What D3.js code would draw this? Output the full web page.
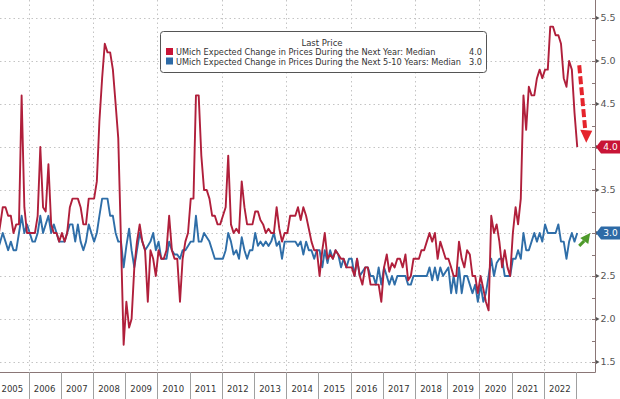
<!DOCTYPE html>
<html>
<head>
<meta charset="utf-8">
<script src="https://cdn.jsdelivr.net/npm/d3@7"></script>
<style>
  body { margin: 0; background: #fff; }
  svg { display: block; font-family: "DejaVu Sans", Verdana, sans-serif; }
</style>
</head>
<body>
<div id="chart"></div>
<script>
// monthly medians, Jan 2005 .. Jan 2023
var firstMonth = new Date(2005, 0, 15);

var nextYear = [
  2.9, 3.1, 3.3, 3.3, 3.2, 3.2, 3.0, 3.1, 3.1, 4.6, 3.3, 3.0,   // 2005
  3.0, 3.0, 3.0, 3.2, 4.0, 3.3, 3.25, 3.8, 3.1, 3.0, 3.0, 2.9,  // 2006
  3.0, 2.9, 3.0, 3.3, 3.4, 3.4, 3.4, 3.3, 3.1, 3.1, 3.4, 3.4,   // 2007
  3.4, 3.6, 4.3, 4.8, 5.2, 5.1, 5.1, 4.9, 4.5, 4.1, 2.9, 1.7,   // 2008
  2.2, 1.9, 2.0, 2.6, 2.9, 3.1, 2.9, 2.8, 2.2, 2.8, 2.7, 2.5,   // 2009
  2.8, 2.7, 2.7, 2.8, 3.2, 2.8, 2.7, 2.7, 2.2, 2.7, 2.9, 3.0,   // 2010
  3.4, 3.4, 4.6, 4.6, 3.9, 3.5, 3.5, 3.4, 3.2, 3.2, 3.1, 3.1,   // 2011
  3.2, 3.3, 3.9, 3.1, 3.0, 3.05, 3.0, 3.6, 3.3, 3.1, 3.1, 3.1,  // 2012
  3.25, 3.25, 3.15, 3.1, 3.0, 3.05, 3.0, 3.0, 3.3, 3.05, 2.9, 3.0, // 2013
  3.0, 3.2, 3.2, 3.2, 3.3, 3.15, 3.3, 3.2, 3.05, 2.9, 2.8, 2.8, // 2014
  2.5, 2.8, 3.0, 2.7, 2.75, 2.7, 2.8, 2.75, 2.7, 2.7, 2.6, 2.6, // 2015
  2.6, 2.5, 2.7, 2.5, 2.4, 2.6, 2.6, 2.4, 2.4, 2.4, 2.4, 2.2,   // 2016
  2.6, 2.75, 2.55, 2.65, 2.6, 2.7, 2.7, 2.6, 2.75, 2.45, 2.5, 2.7, // 2017
  2.7, 2.7, 2.8, 2.8, 2.9, 3.0, 2.9, 3.0, 2.7, 2.9, 2.8, 2.7,   // 2018
  2.7, 2.6, 2.5, 2.5, 2.9, 2.7, 2.6, 2.8, 2.75, 2.5, 2.5, 2.3,  // 2019
  2.5, 2.35, 2.2, 2.1, 3.2, 3.0, 3.1, 2.9, 2.6, 2.8, 2.6, 2.5,  // 2020
  3.0, 3.3, 3.1, 3.4, 4.6, 4.2, 4.7, 4.6, 4.6, 4.8, 4.9, 4.8,   // 2021
  4.9, 4.9, 5.4, 5.4, 5.3, 5.3, 5.2, 4.8, 4.7, 5.0, 4.9, 4.4,   // 2022
  4.0                                                           // 2023
];

var next5to10 = [
  2.8, 2.9, 3.0, 2.9, 2.8, 2.9, 2.8, 2.8, 3.0, 3.2, 3.0, 3.1,   // 2005
  3.0, 2.9, 2.9, 3.0, 3.2, 3.0, 3.1, 3.2, 3.0, 3.1, 3.0, 2.9,   // 2006
  2.9, 2.9, 3.0, 3.1, 3.1, 2.9, 3.1, 2.9, 2.8, 2.9, 3.1, 3.0,   // 2007
  2.9, 3.0, 3.2, 3.4, 3.4, 3.4, 3.2, 3.2, 3.0, 2.9, 2.9, 2.6,   // 2008
  2.85, 3.05, 2.8, 2.6, 2.8, 3.0, 2.9, 2.8, 2.85, 2.9, 3.0, 2.8, // 2009
  2.9, 2.7, 2.7, 2.7, 2.9, 2.8, 2.75, 2.75, 2.7, 2.8, 2.8, 2.85, // 2010
  2.9, 2.9, 3.2, 2.9, 2.9, 3.0, 2.95, 2.9, 2.8, 2.7, 2.7, 2.7,  // 2011
  2.7, 2.8, 3.0, 2.9, 2.75, 2.8, 2.7, 2.95, 2.8, 2.7, 2.8, 2.8, // 2012
  3.0, 2.85, 2.9, 2.85, 2.9, 2.85, 2.9, 3.0, 2.85, 2.9, 2.7, 2.9, // 2013
  2.9, 2.9, 2.9, 2.9, 2.85, 2.9, 2.75, 2.9, 2.8, 2.8, 2.7, 2.8, // 2014
  2.8, 2.6, 2.8, 2.65, 2.8, 2.7, 2.8, 2.75, 2.6, 2.7, 2.6, 2.7, // 2015
  2.7, 2.5, 2.7, 2.5, 2.55, 2.6, 2.6, 2.5, 2.5, 2.4, 2.6, 2.4,  // 2016
  2.6, 2.5, 2.4, 2.5, 2.4, 2.5, 2.5, 2.5, 2.5, 2.4, 2.4, 2.5,   // 2017
  2.5, 2.5, 2.5, 2.5, 2.5, 2.6, 2.45, 2.6, 2.45, 2.6, 2.5, 2.55, // 2018
  2.6, 2.3, 2.5, 2.3, 2.6, 2.3, 2.5, 2.5, 2.4, 2.3, 2.4, 2.2,   // 2019
  2.4, 2.2, 2.3, 2.5, 2.7, 2.5, 2.65, 2.7, 2.7, 2.5, 2.5, 2.5,  // 2020
  2.7, 2.7, 2.8, 2.7, 3.0, 2.8, 2.8, 2.9, 3.0, 2.9, 3.0, 2.9,   // 2021
  3.1, 3.0, 3.0, 3.0, 3.0, 3.1, 2.9, 2.9, 2.7, 2.9, 3.0, 2.9,   // 2022
  3.0                                                           // 2023
];

var yearLabels = d3.range(2005, 2023);
var gridYears = d3.range(2006, 2023, 2);
var yTicks = [1.5, 2.0, 2.5, 3.0, 3.5, 4.0, 4.5, 5.0, 5.5];

var SERIES = [
  { name: 'UMich Expected Change in Prices During the Next Year: Median', values: nextYear, color: '#b01f3b', tag: '#c81436' },
  { name: 'UMich Expected Change in Prices During the Next 5-10 Years: Median', values: next5to10, color: '#2f6ea8', tag: '#2d6aa6' }
];

var W = 620, H = 399;
var right = 595, bottom = 372;

function monthDate(i) {
  return new Date(firstMonth.getFullYear(), firstMonth.getMonth() + i, 15);
}

var sx = d3.scaleTime()
  .domain([new Date(2006, 0, 1), new Date(2023, 0, 1)])
  .range([28.5, 576]);
var sy = d3.scaleLinear()
  .domain([1.5, 5.5])
  .range([362, 18]);

var svg = d3.select('#chart').append('svg')
  .attr('width', W)
  .attr('height', H);

svg.append('clipPath').attr('id', 'plot')
  .append('rect').attr('x', 0).attr('y', 0).attr('width', right).attr('height', bottom);

// grid
var grid = svg.append('g')
  .attr('stroke', '#c4c4c4')
  .attr('stroke-width', 1)
  .attr('stroke-dasharray', '1.5,3');
grid.selectAll('line.h').data(yTicks).enter().append('line')
  .attr('x1', 0).attr('x2', right)
  .attr('y1', function(d) { return Math.round(sy(d)) + 0.5; })
  .attr('y2', function(d) { return Math.round(sy(d)) + 0.5; });
grid.selectAll('line.v').data(gridYears).enter().append('line')
  .attr('x1', function(d) { return Math.round(sx(new Date(d, 0, 1))) + 0.5; })
  .attr('x2', function(d) { return Math.round(sx(new Date(d, 0, 1))) + 0.5; })
  .attr('y1', 0).attr('y2', bottom);

// series
var line = d3.line()
  .x(function(d, i) { return sx(monthDate(i)); })
  .y(function(d) { return sy(d); });

var lines = svg.append('g').attr('clip-path', 'url(#plot)');
SERIES.slice().reverse().forEach(function(s) {
  lines.append('path')
    .datum(s.values)
    .attr('fill', 'none')
    .attr('stroke', s.color)
    .attr('stroke-width', 1.9)
    .attr('stroke-linejoin', 'round')
    .attr('d', line);
});

// right axis
var axisColor = '#8a7676';
svg.append('line')
  .attr('x1', right + 0.5).attr('x2', right + 0.5)
  .attr('y1', 0).attr('y2', bottom + 0.5)
  .attr('stroke', axisColor);
svg.append('line')
  .attr('x1', 0).attr('x2', right + 0.5)
  .attr('y1', bottom + 0.5).attr('y2', bottom + 0.5)
  .attr('stroke', axisColor);

var minor = d3.range(1.5, 5.6, 0.25);
svg.append('g').selectAll('line').data(minor).enter().append('line')
  .attr('x1', right - 3).attr('x2', right)
  .attr('y1', function(d) { return Math.round(sy(d)) + 0.5; })
  .attr('y2', function(d) { return Math.round(sy(d)) + 0.5; })
  .attr('stroke', axisColor);

// the last-price tags sit on top of these two labels
var lastValues = SERIES.map(function(s) { return s.values[s.values.length - 1]; });
var yt = svg.append('g').selectAll('g').data(yTicks).enter().append('g')
  .attr('transform', function(d) { return 'translate(' + (right + 1) + ',' + sy(d) + ')'; });
yt.append('path')
  .attr('d', 'M0,-2L3.5,0L0,2Z')
  .attr('fill', '#555');
yt.filter(function(d) { return lastValues.indexOf(d) < 0; })
  .append('text')
  .attr('x', 4.5)
  .attr('dy', '0.36em')
  .attr('font-size', '9.5px')
  .attr('fill', '#555')
  .text(function(d) { return d.toFixed(1); });

// last price tags
SERIES.forEach(function(s) {
  var v = s.values[s.values.length - 1];
  var g = svg.append('g').attr('transform', 'translate(' + (right + 1) + ',' + sy(v) + ')');
  g.append('path')
    .attr('d', 'M0,0L5,-6.5H24V6.5H5Z')
    .attr('fill', s.tag);
  g.append('text')
    .attr('x', 14.5)
    .attr('dy', '0.36em')
    .attr('text-anchor', 'middle')
    .attr('font-size', '9px')
    .attr('fill', '#fff')
    .text(v.toFixed(1));
});

// year boxes
var xa = svg.append('g');
xa.selectAll('line').data(d3.range(2006, 2024)).enter().append('line')
  .attr('x1', function(d) { return Math.round(sx(new Date(d, 0, 1))) + 0.5; })
  .attr('x2', function(d) { return Math.round(sx(new Date(d, 0, 1))) + 0.5; })
  .attr('y1', bottom).attr('y2', H)
  .attr('stroke', '#a0a0a0');
xa.selectAll('text').data(yearLabels).enter().append('text')
  .attr('x', function(d) { return sx(new Date(d, 6, 2)); })
  .attr('y', 392)
  .attr('text-anchor', 'middle')
  .attr('font-size', '8.5px')
  .attr('fill', '#333')
  .text(function(d) { return d; });

// annotations
var lastDate = monthDate(nextYear.length - 1);
var ax0 = sx(lastDate) + 2, ax1 = sx(lastDate) + 9;
svg.append('line')
  .attr('x1', ax0).attr('y1', sy(4.95))
  .attr('x2', ax1 - 1).attr('y2', sy(4.2))
  .attr('stroke', '#e5242c')
  .attr('stroke-width', 4)
  .attr('stroke-dasharray', '8,3');
svg.append('path')
  .attr('d', 'M' + (ax1 - 6) + ',' + sy(4.2) + 'L' + (ax1 + 6) + ',' + (sy(4.2) + 1) + 'L' + ax1 + ',' + sy(4.05) + 'Z')
  .attr('fill', '#e5242c');

var gx = sx(lastDate) + 2, gy = sy(2.85);
svg.append('line')
  .attr('x1', gx).attr('y1', gy)
  .attr('x2', gx + 5).attr('y2', gy - 5)
  .attr('stroke', '#4e9a2a')
  .attr('stroke-width', 3);
svg.append('path')
  .attr('d', 'M' + (gx + 1) + ',' + (gy - 8) + 'L' + (gx + 11) + ',' + (gy - 13) + 'L' + (gx + 9) + ',' + (gy - 2) + 'Z')
  .attr('fill', '#4e9a2a');

// legend
var lg = svg.append('g');
lg.append('rect')
  .attr('x', 160.5).attr('y', 31.5)
  .attr('width', 326).attr('height', 41)
  .attr('rx', 3)
  .attr('fill', '#fff')
  .attr('stroke', '#555');
lg.append('text')
  .attr('x', 322).attr('y', 45.5)
  .attr('text-anchor', 'middle')
  .attr('font-size', '8.5px')
  .attr('fill', '#333')
  .text('Last Price');
SERIES.forEach(function(s, i) {
  var y = 55 + i * 9.5;
  lg.append('rect')
    .attr('x', 166).attr('y', y - 7)
    .attr('width', 7).attr('height', 7)
    .attr('fill', s.tag);
  lg.append('text')
    .attr('x', 176).attr('y', y)
    .attr('font-size', '8.2px')
    .attr('fill', '#333')
    .text(s.name);
  lg.append('text')
    .attr('x', 482).attr('y', y)
    .attr('text-anchor', 'end')
    .attr('font-size', '8.2px')
    .attr('fill', '#333')
    .text(s.values[s.values.length - 1].toFixed(1));
});
</script>
</body>
</html>
